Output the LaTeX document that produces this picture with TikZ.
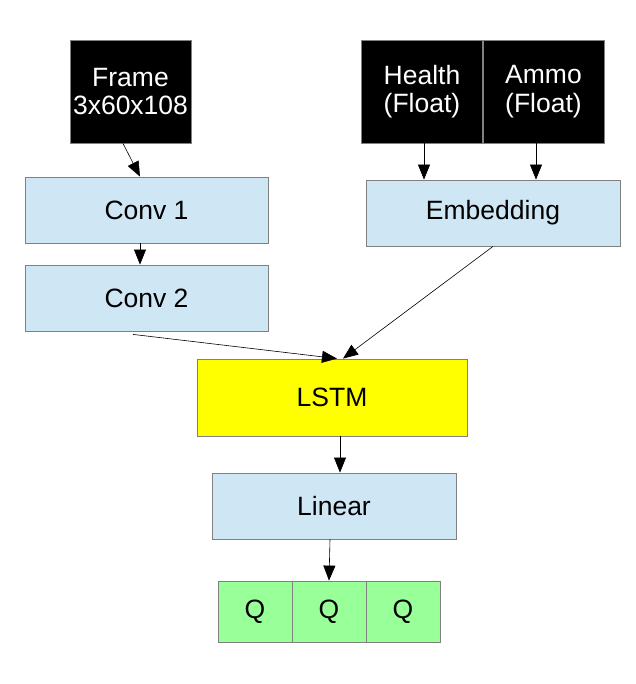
\documentclass[tikz,border=0pt]{standalone}
\usepackage{fontspec}
\setmainfont{Liberation Sans}
\usetikzlibrary{arrows.meta,calc}
\definecolor{layerblue}{RGB}{207,231,245}
\definecolor{qgreen}{RGB}{153,255,153}
\definecolor{lstmyellow}{RGB}{255,255,0}
\definecolor{boxgray}{RGB}{128,128,128}
\begin{document}
\begin{tikzpicture}[x=1pt,y=-1pt,
  box/.style={draw=boxgray,line width=0.8pt,inner sep=0pt,align=center,
    font=\fontsize{26.5}{28.5}\selectfont},
  inputbox/.style={box,fill=black,text=white,minimum width=121pt,minimum height=103pt},
  layerbox/.style={box,fill=layerblue,minimum width=243pt,minimum height=66pt},
  qbox/.style={box,fill=qgreen,minimum width=74pt,minimum height=61pt},
  flow/.style={-{Triangle[length=15pt,width=12pt]},line width=0.6pt}]
\useasboundingbox (0,0) rectangle (635,684);

% Inputs
\node [inputbox] (frame) at (130.5,91.5) {Frame\\3x60x108};
\node [inputbox] (health) at (422,91.5) {Health\\(Float)};
\node [inputbox] (ammo) at (543.5,91.5) {Ammo\\(Float)};

% Layers
\node [layerbox] (conv1) at (146.5,210) {Conv 1};
\node [layerbox] (conv2) at (146.5,298) {Conv 2};
\node [layerbox,minimum width=254pt] (embed) at (493,213) {Embedding};
\node [box,fill=lstmyellow,minimum width=270pt,minimum height=77pt] (lstm) at (332,397.5) {LSTM};
\node [layerbox,minimum width=244pt] (linear) at (334,506) {Linear};

% Outputs
\node [qbox] (q1) at (255,611.5) {Q};
\node [qbox] (q2) at (329,611.5) {Q};
\node [qbox] (q3) at (403,611.5) {Q};

% Connectors
\draw [flow] ($(frame.south)+(-7.5,0)$) -- ($(conv1.north)+(-6.5,0)$);
\draw [flow] ($(conv1.south)+(-6.5,0)$) -- ($(conv2.north)+(-6.5,0)$);
\draw [flow] ($(health.south)+(2,0)$) -- ($(embed.north)+(-69,0)$);
\draw [flow] ($(ammo.south)+(-7.5,0)$) -- ($(embed.north)+(43,0)$);
\draw [flow] ($(conv2.south)+(-13.5,3)$) -- ($(lstm.north)+(5,0)$);
\draw [flow] (embed.south) -- ($(lstm.north)+(11,0)$);
\draw [flow] ($(lstm.south)+(8,0)$) -- ($(linear.north)+(6,0)$);
\draw [flow] ($(linear.south)+(-4,0)$) -- (q2.north);
\end{tikzpicture}
\end{document}
